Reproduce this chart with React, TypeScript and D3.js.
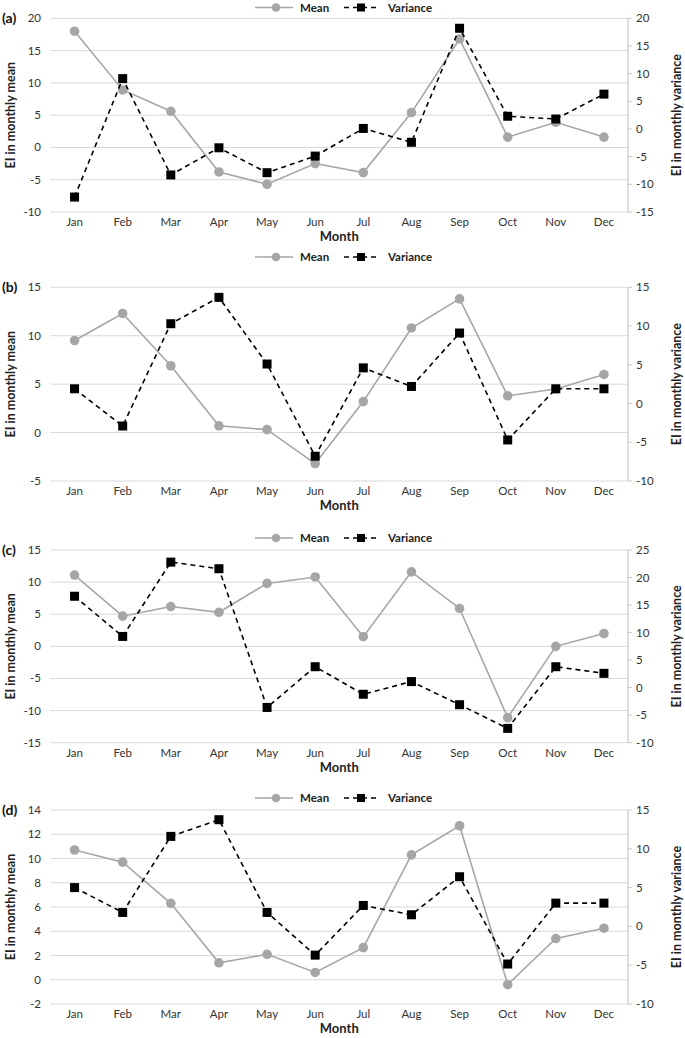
import React from "react";
import * as d3 from "d3";

const months = ["Jan", "Feb", "Mar", "Apr", "May", "Jun", "Jul", "Aug", "Sep", "Oct", "Nov", "Dec"];

const meanA = [18, 8.9, 5.6, -3.8, -5.7, -2.5, -3.9, 5.4, 16.8, 1.6, 3.9, 1.6];
const varA = [-12.3, 9.1, -8.3, -3.4, -7.9, -4.9, 0.1, -2.4, 18.2, 2.3, 1.8, 6.3];
const meanB = [9.5, 12.3, 6.9, 0.7, 0.3, -3.2, 3.2, 10.8, 13.8, 3.8, 4.5, 6.0];
const varB = [1.9, -2.9, 10.3, 13.7, 5.1, -6.8, 4.6, 2.2, 9.1, -4.7, 1.9, 1.9];
const meanC = [11.1, 4.7, 6.2, 5.3, 9.8, 10.8, 1.5, 11.6, 5.9, -11.1, 0, 2.0];
const varC = [16.6, 9.3, 22.8, 21.6, -3.6, 3.8, -1.2, 1.1, -3.1, -7.4, 3.8, 2.6];
const meanD = [10.7, 9.7, 6.3, 1.4, 2.1, 0.6, 2.65, 10.3, 12.7, -0.4, 3.4, 4.25];
const varD = [5.0, 1.8, 11.6, 13.75, 1.8, -3.7, 2.7, 1.5, 6.4, -4.85, 3.0, 3.0];

const leftTicksA = [-10, -5, 0, 5, 10, 15, 20];
const rightTicksA = [-15, -10, -5, 0, 5, 10, 15, 20];
const leftTicksB = [-5, 0, 5, 10, 15];
const rightTicksB = [-10, -5, 0, 5, 10, 15];
const leftTicksC = [-15, -10, -5, 0, 5, 10, 15];
const rightTicksC = [-10, -5, 0, 5, 10, 15, 20, 25];
const leftTicksD = [-2, 0, 2, 4, 6, 8, 10, 12, 14];
const rightTicksD = [-10, -5, 0, 5, 10, 15];

const panelLabels = ["(a)", "(b)", "(c)", "(d)"];

const FONT = "Lato, 'Open Sans', sans-serif";
const GRAY = "#a6a6a6";
const GRID = "#d9d9d9";

const X0 = 50.5;
const X1 = 628;

type PanelProps = {
  label: string;
  top: number;
  bottom: number;
  legendY: number;
  mean: number[];
  variance: number[];
  leftTicks: number[];
  rightTicks: number[];
};

function Panel({ label, top, bottom, legendY, mean, variance, leftTicks, rightTicks }: PanelProps) {
  const x = d3.scaleBand<string>().domain(months).range([X0, X1]);
  const cx = (m: string) => (x(m) as number) + x.bandwidth() / 2;
  const yL = d3
    .scaleLinear()
    .domain([d3.min(leftTicks) as number, d3.max(leftTicks) as number])
    .range([bottom, top]);
  const yR = d3
    .scaleLinear()
    .domain([d3.min(rightTicks) as number, d3.max(rightTicks) as number])
    .range([bottom, top]);

  const meanLine = d3
    .line<number>()
    .x((_, i) => cx(months[i]))
    .y((v) => yL(v))(mean) as string;
  const varLine = d3
    .line<number>()
    .x((_, i) => cx(months[i]))
    .y((v) => yR(v))(variance) as string;

  const midY = (top + bottom) / 2;
  const sq = 9;

  return (
    <g>
      {leftTicks.map((t) => (
        <line key={"g" + t} x1={X0} x2={X1} y1={yL(t)} y2={yL(t)} stroke={GRID} strokeWidth={1} />
      ))}
      <line x1={X1} x2={X1} y1={top} y2={bottom} stroke="#c8c8c8" strokeWidth={1.2} />
      {rightTicks.map((t) => (
        <g key={"r" + t}>
          <line x1={X1} x2={X1 + 4} y1={yR(t)} y2={yR(t)} stroke="#c8c8c8" strokeWidth={1} />
          <text x={X1 + 8} y={yR(t)} dy="0.35em" fontSize={11.5} fontFamily={FONT} fill="#333">
            {t}
          </text>
        </g>
      ))}
      {leftTicks.map((t) => (
        <text key={"l" + t} x={41} y={yL(t)} dy="0.35em" textAnchor="end" fontSize={11.5} fontFamily={FONT} fill="#333">
          {t}
        </text>
      ))}
      {months.map((m) => (
        <text key={m} x={cx(m)} y={bottom + 14} textAnchor="middle" fontSize={11.5} fontFamily={FONT} fill="#333">
          {m}
        </text>
      ))}
      <text x={(X0 + X1) / 2} y={bottom + 29} textAnchor="middle" fontSize={13} fontWeight="bold" fontFamily={FONT} fill="#222">
        Month
      </text>
      <text
        transform={`translate(15,${midY}) rotate(-90)`}
        textAnchor="middle"
        fontSize={12.5}
        fontWeight="bold"
        fontFamily={FONT}
        fill="#222"
      >
        EI in monthly mean
      </text>
      <text
        transform={`translate(681,${midY}) rotate(-90)`}
        textAnchor="middle"
        fontSize={12.5}
        fontWeight="bold"
        fontFamily={FONT}
        fill="#222"
      >
        EI in monthly variance
      </text>
      <text x={2} y={top} dy="0.35em" fontSize={14} fontWeight="bold" fontFamily={FONT} fill="#111">
        {label}
      </text>
      <path d={meanLine} fill="none" stroke={GRAY} strokeWidth={1.6} />
      {mean.map((v, i) => (
        <circle key={"m" + i} cx={cx(months[i])} cy={yL(v)} r={4.8} fill={GRAY} />
      ))}
      <path d={varLine} fill="none" stroke="#000" strokeWidth={1.6} strokeDasharray="5,4" />
      {variance.map((v, i) => (
        <rect key={"v" + i} x={cx(months[i]) - sq / 2} y={yR(v) - sq / 2} width={sq} height={sq} fill="#000" />
      ))}
      <g>
        <line x1={255} x2={293} y1={legendY} y2={legendY} stroke={GRAY} strokeWidth={1.6} />
        <circle cx={276} cy={legendY} r={4.3} fill={GRAY} />
        <text x={300} y={legendY} dy="0.35em" fontSize={11.5} fontWeight="bold" fontFamily={FONT} fill="#222">
          Mean
        </text>
        <line x1={344} x2={380} y1={legendY} y2={legendY} stroke="#000" strokeWidth={1.6} strokeDasharray="5,4" />
        <rect x={361 - 4} y={legendY - 4} width={8} height={8} fill="#000" />
        <text x={388} y={legendY} dy="0.35em" fontSize={11.5} fontWeight="bold" fontFamily={FONT} fill="#222">
          Variance
        </text>
      </g>
    </g>
  );
}

export default function App() {
  return (
    <svg
      width={685}
      height={1038}
      style={{ position: "absolute", left: 0, top: 0, background: "#fff" }}
    >
      <rect width={685} height={1038} fill="#fff" />
      <Panel label={panelLabels[0]} top={18.3} bottom={212} legendY={7.5} mean={meanA} variance={varA} leftTicks={leftTicksA} rightTicks={rightTicksA} />
      <Panel label={panelLabels[1]} top={287.3} bottom={481} legendY={257} mean={meanB} variance={varB} leftTicks={leftTicksB} rightTicks={rightTicksB} />
      <Panel label={panelLabels[2]} top={550} bottom={742.7} legendY={538} mean={meanC} variance={varC} leftTicks={leftTicksC} rightTicks={rightTicksC} />
      <Panel label={panelLabels[3]} top={810} bottom={1004} legendY={798} mean={meanD} variance={varD} leftTicks={leftTicksD} rightTicks={rightTicksD} />
    </svg>
  );
}
